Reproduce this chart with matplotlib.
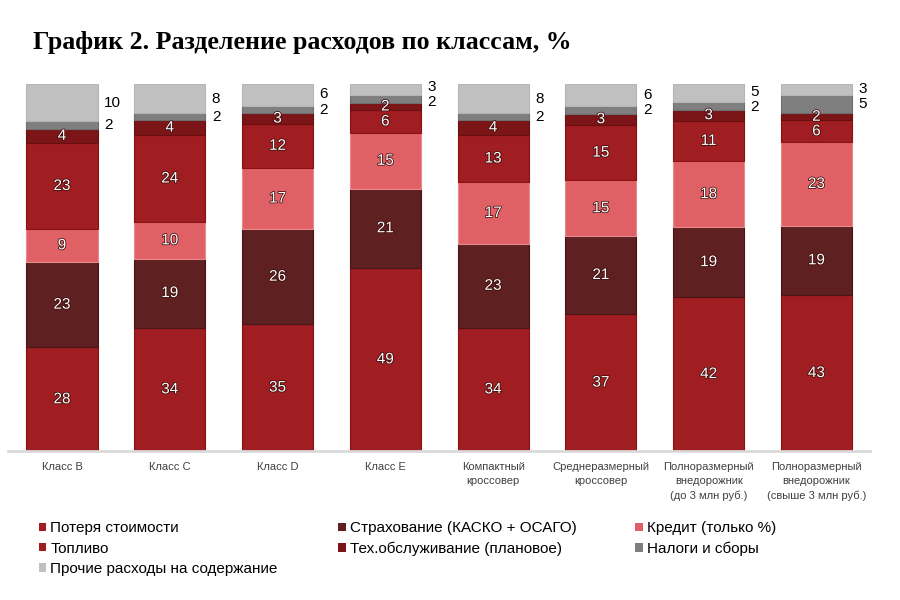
import numpy as np
import matplotlib
matplotlib.use("Agg")
import matplotlib.pyplot as plt
import matplotlib.patheffects as pe
from matplotlib.patches import Patch

# categories (bars) and cost components (segments, bottom -> top)
classes = ["Класс B", "Класс C", "Класс D", "Класс E",
           "Компактный\nкроссовер", "Среднеразмерный\nкроссовер",
           "Полноразмерный\nвнедорожник\n(до 3 млн руб.)",
           "Полноразмерный\nвнедорожник\n(свыше 3 млн руб.)"]

poterya = [28, 34, 35, 49, 34, 37, 42, 43]
strahovanie = [23, 19, 26, 21, 23, 21, 19, 19]
kredit = [9, 10, 17, 15, 17, 15, 18, 23]
toplivo = [23, 24, 12, 6, 13, 15, 11, 6]
to_plan = [4, 4, 3, 2, 4, 3, 3, 2]
nalogi = [2, 2, 2, 2, 2, 2, 2, 5]
prochie = [10, 8, 6, 3, 8, 6, 5, 3]

names = ["Потеря стоимости", "Страхование (КАСКО + ОСАГО)", "Кредит (только %)",
         "Топливо", "Тех.обслуживание (плановое)", "Налоги и сборы",
         "Прочие расходы на содержание"]
colors = ["#a01d21", "#5e2020", "#e06165", "#a01d21", "#7b1517", "#7f7f7f", "#c0c0c0"]
edges = ["#8a1216", "#4a1515", "#e88a8d", "#8a1216", "#6a0f10", "#6f6f6f", "#b5b5b5"]

series = np.array([poterya, strahovanie, kredit, toplivo, to_plan, nalogi, prochie], dtype=float)
shares = series / series.sum(axis=0) * 100  # the bars are drawn as 100% stacks

fig = plt.figure(figsize=(9, 6), dpi=100)
ax = fig.add_axes([0.009, 0.248, 0.958, 0.612])

x = np.arange(len(classes))
width = 0.66
bottom = np.zeros(len(classes))
centers = np.zeros_like(shares)
handles = []
for i, name in enumerate(names):
    ax.bar(x, shares[i], width, bottom=bottom, color=colors[i],
           edgecolor=edges[i], linewidth=0.8)
    centers[i] = bottom + shares[i] / 2
    for j in range(len(classes)):
        if i < 5:
            ax.text(x[j], centers[i, j], str(int(series[i, j])), ha="center", va="center",
                    fontsize=11, color="white", family="Liberation Sans",
                    path_effects=[pe.withStroke(linewidth=1.1, foreground="#3a0a0a")])
    bottom += shares[i]
    handles.append(Patch(facecolor=colors[i], edgecolor="none"))

# taxes and other costs are labelled to the right of the bar, kept apart a little
for j in range(len(classes)):
    y_tax, y_oth = centers[5, j], centers[6, j]
    gap = 4.2 - (y_oth - y_tax)
    if gap > 0:
        y_tax -= gap / 2
        y_oth += gap / 2
    for val, yy in [(nalogi[j], y_tax), (prochie[j], y_oth)]:
        ax.text(x[j] + width / 2 + 0.06, yy, str(val), ha="left", va="center",
                fontsize=11, color="black", family="Liberation Sans")

ax.set_xlim(-0.5, len(classes) - 0.5)
ax.set_ylim(0, 100)
for s in ["top", "right", "left"]:
    ax.spines[s].set_visible(False)
ax.spines["bottom"].set_color("#d9d9d9")
ax.spines["bottom"].set_linewidth(2)
ax.set_yticks([])
ax.set_xticks(x)
ax.set_xticklabels(classes, fontsize=8, color="#404040", family="Liberation Sans",
                   linespacing=1.5)
ax.tick_params(axis="x", length=0, pad=8)

fig.text(0.037, 0.93, "График 2. Разделение расходов по классам, %", fontsize=18.6,
         fontweight="bold", family="Liberation Serif", va="center", ha="left")

# legend: three columns placed where the reference has them
legend_cols = [([0, 3, 6], 0.043), ([1, 4], 0.376), ([2, 5], 0.706)]
for idx, xpos in legend_cols:
    fig.legend([handles[k] for k in idx], [names[k] for k in idx],
               loc="upper left", bbox_to_anchor=(xpos, 0.131), frameon=False,
               handlelength=0.5, handleheight=0.5, handletextpad=0.25,
               labelspacing=0.4, borderaxespad=0, borderpad=0,
               prop={"family": "Liberation Sans", "size": 11})

fig.savefig("out.png", dpi=100)
